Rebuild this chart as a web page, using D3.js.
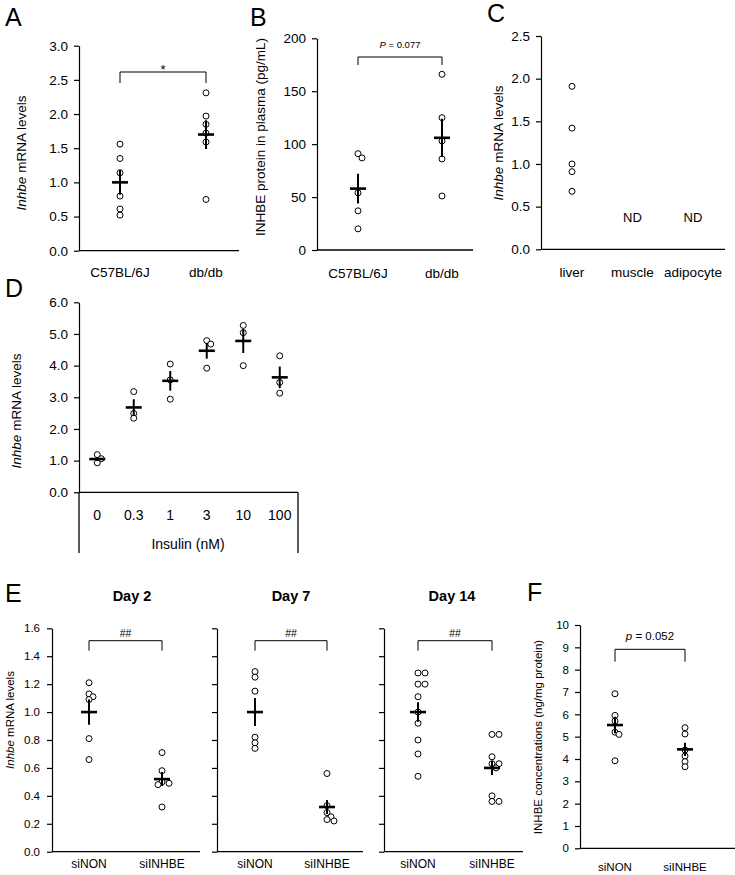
<!DOCTYPE html>
<html>
<head>
<meta charset="utf-8">
<script src="https://cdn.jsdelivr.net/npm/d3@7"></script>
<style>
  body { margin: 0; background: #fff; }
  svg text { font-family: 'Liberation Sans', Arial, sans-serif; fill: #000; }
</style>
</head>
<body>
<div id="fig"></div>
<script>
// ---- data ----
var aCats = ["C57BL/6J", "db/db"];
var aPoints = [[1.56, 1.35, 1.14, 0.80, 0.61, 0.52], [2.31, 1.97, 1.85, 1.72, 1.59, 0.75]];
var aMean = [1.00, 1.70];
var aSem = [0.18, 0.21];

var bCats = ["C57BL/6J", "db/db"];
var bPoints = [[91, 87, 54, 37, 20], [166, 125, 103, 86, 51]];
var bMean = [58, 106];
var bSem = [14, 18];

var cCats = ["liver", "muscle", "adipocyte"];
var cPoints = [[1.91, 1.42, 1.00, 0.91, 0.68], [], []];
var cNotDetected = ["muscle", "adipocyte"];

var dCats = ["0", "0.3", "1", "3", "10", "100"];
var dPoints = [[1.19, 1.06, 0.93], [3.18, 2.49, 2.34], [4.05, 3.55, 2.94], [4.79, 4.68, 3.92], [5.27, 5.04, 4.00], [4.31, 3.47, 3.13]];
var dMean = [1.05, 2.68, 3.52, 4.47, 4.78, 3.63];
var dSem = [0.06, 0.26, 0.31, 0.25, 0.38, 0.34];

var eCats = ["siNON", "siINHBE"];
var eDays = ["Day 2", "Day 7", "Day 14"];
var ePoints = [
  [[1.21, 1.13, 1.11, 1.09, 0.81, 0.66], [0.71, 0.58, 0.50, 0.49, 0.48, 0.32]],
  [[1.29, 1.25, 1.15, 0.82, 0.78, 0.74], [0.56, 0.33, 0.28, 0.25, 0.23, 0.22]],
  [[1.28, 1.28, 1.20, 1.20, 1.11, 1.00, 0.92, 0.80, 0.70, 0.54], [0.84, 0.84, 0.68, 0.63, 0.63, 0.60, 0.40, 0.36, 0.36]]
];
var eMean = [[1.00, 0.52], [1.00, 0.32], [1.00, 0.60]];
var eSem = [[0.09, 0.05], [0.10, 0.05], [0.07, 0.05]];

var fCats = ["siNON", "siINHBE"];
var fPoints = [[6.92, 5.95, 5.70, 5.20, 5.10, 3.92], [5.40, 5.12, 4.40, 4.13, 3.88, 3.65]];
var fMean = [5.52, 4.43];
var fSem = [0.37, 0.30];

var aTicks = [0, 0.5, 1, 1.5, 2, 2.5, 3];
var bTicks = [0, 50, 100, 150, 200];
var cTicks = [0, 0.5, 1, 1.5, 2, 2.5];
var dTicks = [0, 1, 2, 3, 4, 5, 6];
var eTicks = [0, 0.2, 0.4, 0.6, 0.8, 1.0, 1.2, 1.4, 1.6];
var fTicks = [0, 1, 2, 3, 4, 5, 6, 7, 8, 9, 10];

var svg = d3.select("#fig").append("svg").attr("width", 735).attr("height", 875);

// ---- one dot-plot panel ----
function panel(cfg) {
  var g = svg.append("g");
  var y = d3.scaleLinear().domain(cfg.domain).range([cfg.yBot, cfg.yTop]);
  var xc;
  if (cfg.band) {
    var xb = d3.scaleBand().domain(cfg.cats).range([cfg.x0, cfg.x1]);
    xc = d => xb(d) + xb.bandwidth() / 2;
  } else {
    var xp = d3.scalePoint().domain(cfg.cats).range(cfg.catRange);
    xc = d => xp(d);
  }

  var axis = d3.axisLeft(y).tickValues(cfg.ticks).tickSize(5).tickSizeOuter(0).tickPadding(cfg.tickPad || 6)
    .tickFormat(cfg.showLabels === false ? "" : d3.format(cfg.fmt));
  var ag = g.append("g").attr("transform", `translate(${cfg.x0},0)`).call(axis);
  ag.selectAll("path, line").attr("stroke", "#000").attr("stroke-width", 1.2);
  ag.selectAll("text").attr("font-size", cfg.tickFont).attr("font-family", null);

  g.append("line").attr("x1", cfg.x0).attr("x2", cfg.x1).attr("y1", cfg.yBot).attr("y2", cfg.yBot)
    .attr("stroke", "#000").attr("stroke-width", 1.3);

  g.selectAll("text.cat").data(cfg.cats).enter().append("text").attr("class", "cat")
    .attr("x", d => xc(d)).attr("y", cfg.catY).attr("text-anchor", "middle")
    .attr("font-size", cfg.catFont).text(d => d);

  // points, dodged sideways only where they would sit on top of each other
  cfg.points.forEach(function (vals, i) {
    var placed = [];
    vals.forEach(function (v) {
      var py = y(v), off = 0;
      var tries = [0, 4, -4, 7, -7];
      for (var t = 0; t < tries.length; t++) {
        var ok = placed.every(p => Math.hypot(p[0] - tries[t], p[1] - py) >= 4.5);
        if (ok) { off = tries[t]; break; }
      }
      placed.push([off, py]);
      g.append("circle").attr("cx", xc(cfg.cats[i]) + off).attr("cy", py).attr("r", 3)
        .attr("fill", "#fff").attr("stroke", "#000").attr("stroke-width", 1);
    });
  });

  if (cfg.mean) {
    cfg.mean.forEach(function (m, i) {
      var cx = xc(cfg.cats[i]);
      g.append("line").attr("x1", cx).attr("x2", cx).attr("y1", y(m - cfg.sem[i])).attr("y2", y(m + cfg.sem[i]))
        .attr("stroke", "#000").attr("stroke-width", 2);
      g.append("line").attr("x1", cx - 8).attr("x2", cx + 8).attr("y1", y(m)).attr("y2", y(m))
        .attr("stroke", "#000").attr("stroke-width", 2.6);
    });
  }

  if (cfg.bracket) {
    var b = cfg.bracket;
    var xa = xc(cfg.cats[0]), xz = xc(cfg.cats[1]);
    g.append("path").attr("d", `M${xa},${b.bot}V${b.top}H${xz}V${b.bot}`)
      .attr("fill", "none").attr("stroke", "#000").attr("stroke-width", 1);
    var t = g.append("text").attr("x", (xa + xz) / 2).attr("y", b.textY).attr("text-anchor", "middle")
      .attr("font-size", b.font);
    if (b.italic) {
      t.append("tspan").attr("font-style", "italic").text(b.italic);
      t.append("tspan").text(b.text);
    } else {
      t.text(b.text);
    }
  }

  if (cfg.ylabel) {
    var yl = g.append("text").attr("transform", `translate(${cfg.ylabel.x},${cfg.ylabel.y}) rotate(-90)`)
      .attr("text-anchor", "middle").attr("font-size", cfg.ylabel.font);
    if (cfg.ylabel.italic) {
      yl.append("tspan").attr("font-style", "italic").text(cfg.ylabel.italic);
    }
    yl.append("tspan").text(cfg.ylabel.text);
  }
  return { g: g, y: y, xc: xc };
}

function letter(t, x, yy) {
  svg.append("text").attr("x", x).attr("y", yy).attr("font-size", 25).text(t);
}

// A
panel({
  x0: 79, x1: 239, yTop: 45.7, yBot: 250.7, domain: [0, 3], ticks: aTicks, fmt: ".1f", tickFont: 13.5,
  cats: aCats, catRange: [120, 206], catY: 277, catFont: 13.5,
  points: aPoints, mean: aMean, sem: aSem,
  bracket: { top: 72, bot: 83, textY: 74, text: "*", font: 13 },
  ylabel: { x: 26, y: 153, font: 13.5, italic: "Inhbe", text: " mRNA levels" }
});
letter("A", 5, 26);

// B
panel({
  x0: 317, x1: 473, yTop: 38.3, yBot: 250, domain: [0, 200], ticks: bTicks, fmt: "d", tickFont: 13.5,
  cats: bCats, catRange: [358, 442], catY: 278, catFont: 13.5,
  points: bPoints, mean: bMean, sem: bSem,
  bracket: { top: 57, bot: 65, textY: 48, italic: "P", text: " = 0.077", font: 9.5 },
  ylabel: { x: 265, y: 137, font: 13.5, text: "INHBE protein in plasma (pg/mL)" }
});
letter("B", 250, 26);

// C
var pc = panel({
  x0: 541, x1: 725, yTop: 36, yBot: 249.3, domain: [0, 2.5], ticks: cTicks, fmt: ".1f", tickFont: 13.5,
  cats: cCats, catRange: [572, 693], catY: 277, catFont: 13.5,
  points: cPoints,
  ylabel: { x: 503, y: 143, font: 13.5, italic: "Inhbe", text: " mRNA levels" }
});
pc.g.selectAll("text.nd").data(cNotDetected).enter().append("text").attr("class", "nd")
  .attr("x", d => pc.xc(d)).attr("y", pc.y(0.38) + 5).attr("text-anchor", "middle")
  .attr("font-size", 13).text("ND");
letter("C", 487, 22);

// D
var pd = panel({
  x0: 79, x1: 298, yTop: 302.3, yBot: 492.3, domain: [0, 6], ticks: dTicks, fmt: ".1f", tickFont: 13.5,
  cats: dCats, band: true, catY: 520, catFont: 14,
  points: dPoints, mean: dMean, sem: dSem,
  ylabel: { x: 21, y: 411, font: 13.5, italic: "Inhbe", text: " mRNA levels" }
});
[79, 298].forEach(function (xx) {
  pd.g.append("line").attr("x1", xx).attr("x2", xx).attr("y1", 492.3).attr("y2", 553)
    .attr("stroke", "#000").attr("stroke-width", 1.3);
});
pd.g.append("text").attr("x", 188).attr("y", 549).attr("text-anchor", "middle").attr("font-size", 14).text("Insulin (nM)");
letter("D", 5, 297);

// E
var eLayout = [
  { x0: 52, x1: 200, cats: [89, 162], title: 132 },
  { x0: 217, x1: 363, cats: [255, 327], title: 291 },
  { x0: 384, x1: 523, cats: [418, 492], title: 452 }
];
eDays.forEach(function (day, k) {
  var L = eLayout[k];
  panel({
    x0: L.x0, x1: L.x1, yTop: 628.3, yBot: 851.7, domain: [0, 1.6], ticks: eTicks, fmt: ".1f", tickFont: 11.5,
    showLabels: k === 0, tickPad: 7,
    cats: eCats, catRange: L.cats, catY: 868, catFont: 12,
    points: ePoints[k], mean: eMean[k], sem: eSem[k],
    bracket: { top: 640.7, bot: 650.7, textY: 637, text: "##", font: 10.5 },
    ylabel: k === 0 ? { x: 14, y: 720, font: 11.5, italic: "Inhbe", text: " mRNA levels" } : null
  });
  svg.append("text").attr("x", L.title).attr("y", 601).attr("text-anchor", "middle")
    .attr("font-size", 14.5).attr("font-weight", "bold").text(day);
});
letter("E", 5, 602);

// F
panel({
  x0: 580, x1: 735, yTop: 625, yBot: 848.3, domain: [0, 10], ticks: fTicks, fmt: "d", tickFont: 11.5,
  cats: fCats, catRange: [615, 685], catY: 871, catFont: 11.5,
  points: fPoints, mean: fMean, sem: fSem,
  bracket: { top: 649.3, bot: 661.7, textY: 640, italic: "p", text: " = 0.052", font: 11.5 },
  ylabel: { x: 542, y: 737, font: 11.5, text: "INHBE concentrations (ng/mg protein)" }
});
letter("F", 527, 601);
</script>
</body>
</html>
